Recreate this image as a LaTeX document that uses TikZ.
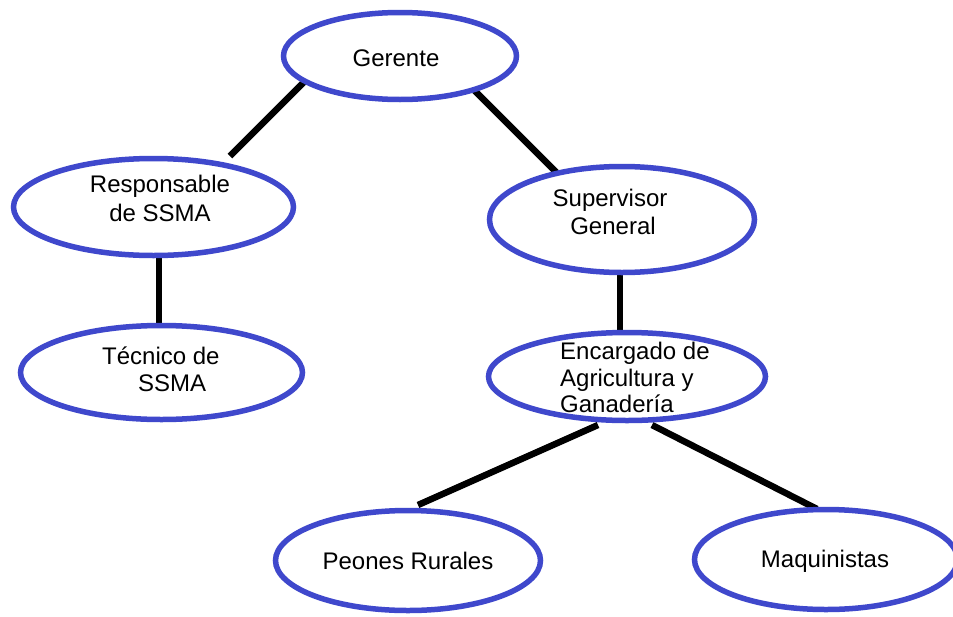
\documentclass[tikz,border=0pt]{standalone}
\usepackage{fontspec}
\setmainfont{Liberation Sans}
\usetikzlibrary{shapes.geometric}
\definecolor{paintblue}{RGB}{63,72,204}
\tikzset{
  oval/.style={ellipse, draw=paintblue, line width=5.5pt, fill=white, inner sep=0pt, outer sep=0pt},
  lbl/.style={anchor=base, inner sep=0pt, font=\fontsize{24}{27}\selectfont},
  lbll/.style={anchor=base west, inner sep=0pt, font=\fontsize{24}{27}\selectfont},
  link/.style={line width=6.5pt, black}
}
\begin{document}
\begin{tikzpicture}[x=1pt,y=-1pt]
\useasboundingbox (0,0) rectangle (953,616);
\fill[white] (0,0) rectangle (953,616);
\clip (0,0) rectangle (953,616);
% connectors
\coordinate (a1) at (305,81);  \coordinate (a2) at (230,156);
\coordinate (b1) at (472,88);  \coordinate (b2) at (557,173);
\coordinate (c1) at (159,257); \coordinate (c2) at (159,324);
\coordinate (d1) at (620,273); \coordinate (d2) at (620,330);
\coordinate (e1) at (598,425); \coordinate (e2) at (418,505);
\coordinate (f1) at (652,425); \coordinate (f2) at (817,509);
\draw[link] (a1) -- (a2);
\draw[link] (b1) -- (b2);
\draw[link] (c1) -- (c2);
\draw[link] (d1) -- (d2);
\draw[link] (e1) -- (e2);
\draw[link] (f1) -- (f2);
% ellipses
\node[oval, minimum width=233pt, minimum height=87pt] (ger) at (400,56) {};
\node[oval, minimum width=280pt, minimum height=97pt] (resp) at (153.5,207) {};
\node[oval, minimum width=265pt, minimum height=106pt] (sup) at (622,219.5) {};
\node[oval, minimum width=282pt, minimum height=94pt] (tec) at (161.5,372.5) {};
\node[oval, minimum width=277pt, minimum height=88pt] (enc) at (627,376.5) {};
\node[oval, minimum width=265pt, minimum height=100pt] (peo) at (408,560.5) {};
\node[oval, minimum width=263pt, minimum height=100pt] (maq) at (826,559.5) {};
% texts
\node[lbl] (tger) at (396,66) {Gerente};
\node[lbl] (tresp1) at (160,192) {Responsable};
\node[lbl] (tresp2) at (160,221) {de SSMA};
\node[lbl] (tsup1) at (610,206) {Supervisor};
\node[lbl] (tsup2) at (613,234) {General};
\node[lbll] (ttec1) at (102,364) {Técnico de};
\node[lbll] (ttec2) at (138,391) {SSMA};
\node[lbll] (tenc1) at (560,359) {Encargado de};
\node[lbll] (tenc2) at (560,386) {Agricultura y};
\node[lbll] (tenc3) at (560,412) {Ganadería};
\node[lbl] (tpeo) at (408,569) {Peones Rurales};
\node[lbl] (tmaq) at (825,567) {Maquinistas};
\end{tikzpicture}
\end{document}
